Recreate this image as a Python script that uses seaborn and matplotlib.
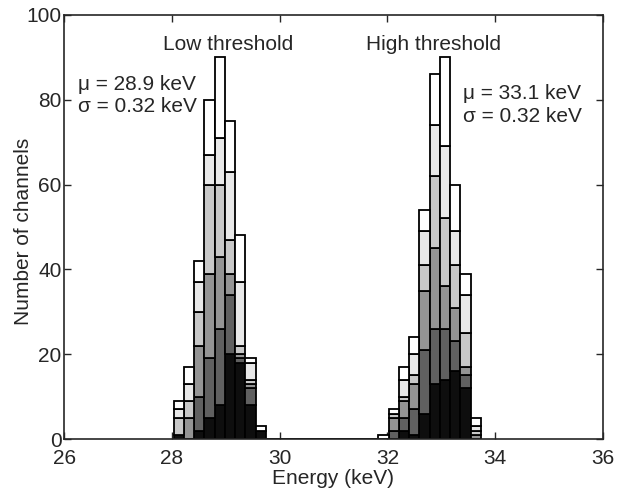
import numpy as np
import pandas as pd
import matplotlib
matplotlib.use("Agg")
import matplotlib.pyplot as plt
import seaborn as sns

# --- Data: channel counts per energy bin, one list per stacked layer ---
# bin centres (keV); low threshold peak then high threshold peak
energy = [28.13, 28.32, 28.51, 28.70, 28.89, 29.08, 29.27, 29.46, 29.65,
          31.93, 32.12, 32.31, 32.50, 32.69, 32.88, 33.07, 33.26, 33.45, 33.64]
bin_width = 0.19

layer_black = [1, 0, 2, 5, 8, 20, 18, 8, 2,
               0, 0, 2, 1, 6, 13, 14, 16, 12, 0]
layer_dark = [0, 0, 8, 14, 18, 14, 1, 4, 0,
              0, 2, 3, 6, 15, 13, 12, 7, 3, 0]
layer_mid = [0, 5, 12, 20, 17, 5, 1, 1, 0,
             0, 3, 4, 6, 14, 19, 10, 8, 2, 1]
layer_light = [4, 4, 8, 21, 17, 8, 2, 1, 0,
               0, 1, 1, 2, 6, 17, 16, 10, 8, 1]
layer_vlight = [2, 4, 7, 7, 11, 16, 15, 4, 0,
                0, 0, 4, 5, 8, 12, 17, 8, 9, 1]
layer_white = [2, 4, 5, 13, 19, 12, 11, 1, 1,
               1, 1, 3, 4, 5, 12, 21, 11, 5, 2]

layer_names = ["white", "vlight", "light", "mid", "dark", "black"]
layer_colors = ["#ffffff", "#e8e8e8", "#c8c8c8", "#949494", "#606060", "#0e0e0e"]

layers = {
    "black": layer_black,
    "dark": layer_dark,
    "mid": layer_mid,
    "light": layer_light,
    "vlight": layer_vlight,
    "white": layer_white,
}

rows = []
for name, counts in layers.items():
    for e, c in zip(energy, counts):
        rows.append({"energy": e, "layer": name, "count": c})
df = pd.DataFrame(rows)

sns.set_style("ticks")
plt.rcParams["font.family"] = ["Liberation Sans", "DejaVu Sans"]
FS = 15

fig = plt.figure(figsize=(6.17, 4.95), dpi=100)
ax = fig.add_axes([0.104, 0.113, 0.873, 0.857])

n_bins = int(round((energy[-1] - energy[0]) / bin_width)) + 1
edges = [energy[0] - bin_width / 2 + bin_width * i for i in range(n_bins + 1)]
sns.histplot(
    data=df, x="energy", weights="count", hue="layer",
    hue_order=layer_names, palette=dict(zip(layer_names, layer_colors)),
    multiple="stack", bins=edges, element="bars", shrink=1,
    edgecolor="black", linewidth=1.3, alpha=1, legend=False, ax=ax,
)

ax.set_xlim(26, 36)
ax.set_ylim(0, 100)
ax.set_xticks(range(26, 37, 2))
ax.set_yticks(range(0, 101, 20))
ax.tick_params(direction="in", top=True, right=True, length=5, width=1,
               labelsize=FS)
ax.tick_params(axis="x", pad=7)
ax.tick_params(axis="y", pad=2)
for s in ax.spines.values():
    s.set_linewidth(1.2)
    s.set_visible(True)
ax.set_xlabel("Energy (keV)", fontsize=FS, labelpad=1)
ax.set_ylabel("Number of channels", fontsize=FS)
ax.yaxis.set_label_coords(-0.058, 0.49)

ax.text(29.04, 93, "Low threshold", ha="center", va="center", fontsize=FS)
ax.text(32.85, 93, "High threshold", ha="center", va="center", fontsize=FS)
ax.text(26.25, 83.5, "\u03bc = 28.9 keV", ha="left", va="center", fontsize=FS)
ax.text(26.25, 78.3, "\u03c3 = 0.32 keV", ha="left", va="center", fontsize=FS)
ax.text(33.4, 81.5, "\u03bc = 33.1 keV", ha="left", va="center", fontsize=FS)
ax.text(33.4, 76.0, "\u03c3 = 0.32 keV", ha="left", va="center", fontsize=FS)

fig.savefig("out.png", dpi=100)
plt.close(fig)
